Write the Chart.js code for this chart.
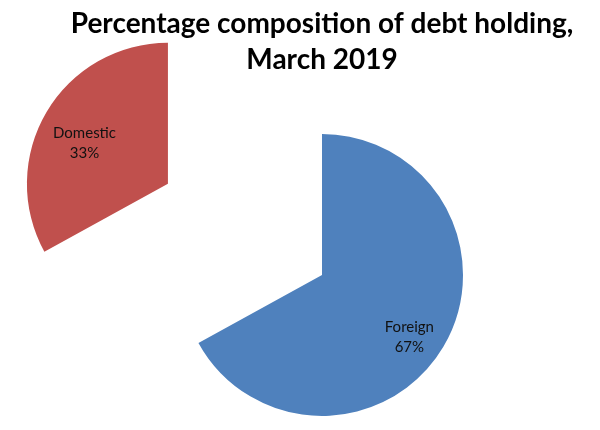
<!DOCTYPE html>
<html lang="en">
<head>
    <meta charset="UTF-8">
    <title>Debt holding composition</title>
    <script src="https://cdn.jsdelivr.net/npm/chart.js"></script>
    <style>
        html, body { margin: 0; padding: 0; background: #fff; }
        #wrap { width: 600px; height: 430px; }
    </style>
</head>
<body>
    <div id="wrap"><canvas id="debtChart"></canvas></div>

    <script>
        const titleLines = ['Percentage composition of debt holding,', 'March 2019'];
        const holders = ['Foreign', 'Domestic'];
        const shares = [67, 33];

        // labels inside the slices + undo the extra radius / trimmed angle chart.js gives exploded slices
        const sliceLabels = {
            id: 'sliceLabels',
            afterDatasetUpdate(chart, args) {
                args.meta.data.forEach(arc => {
                    const push = ((arc.options && arc.options.offset) || 0) / 4;
                    const grow = push * (1 - Math.sin(Math.min(Math.PI, arc.circumference)));
                    if (!grow) return;
                    const trim = grow / (2 * Math.PI * arc.outerRadius);
                    arc.outerRadius -= grow;
                    arc.startAngle -= trim;
                    arc.endAngle += trim;
                });
            },
            afterDatasetsDraw(chart) {
                const ctx = chart.ctx;
                const meta = chart.getDatasetMeta(0);
                const R = meta.controller.outerRadius;
                ctx.save();
                ctx.font = '15px Lato';
                ctx.fillStyle = '#111';
                ctx.textAlign = 'center';
                ctx.textBaseline = 'middle';
                meta.data.forEach((arc, i) => {
                    const mid = (arc.startAngle + arc.endAngle) / 2;
                    const dist = (arc.options.offset || 0) / 4 + R * 0.72;
                    const x = arc.x + Math.cos(mid) * dist + (i === 1 ? 4 : 0);
                    const y = arc.y + Math.sin(mid) * dist + 11;
                    ctx.fillText(holders[i], x, y - 10);
                    ctx.fillText(shares[i] + '%', x, y + 10);
                });
                ctx.restore();
            }
        };

        const ctx = document.getElementById('debtChart').getContext('2d');
        const debtChart = new Chart(ctx, {
            type: 'pie',
            data: {
                labels: holders,
                datasets: [{
                    data: shares,
                    backgroundColor: ['#4F81BD', '#C0504D'],
                    borderWidth: 0,
                    offset: [0, 716],
                    radius: 141
                }]
            },
            options: {
                responsive: true,
                maintainAspectRatio: false,
                animation: false,
                cutout: '0%',   // a plain 0 turns into NaN once the big offset eats the area
                layout: { padding: { left: 44, right: 0, top: 0, bottom: 0 } },
                plugins: {
                    legend: { display: false },
                    tooltip: { enabled: false },
                    title: {
                        display: true,
                        text: titleLines,
                        color: '#000',
                        font: { family: 'Lato', size: 28, weight: 'bold', lineHeight: 1.32 },
                        padding: { top: 5, bottom: 41 }
                    }
                }
            },
            plugins: [sliceLabels]
        });
    </script>
</body>
</html>
